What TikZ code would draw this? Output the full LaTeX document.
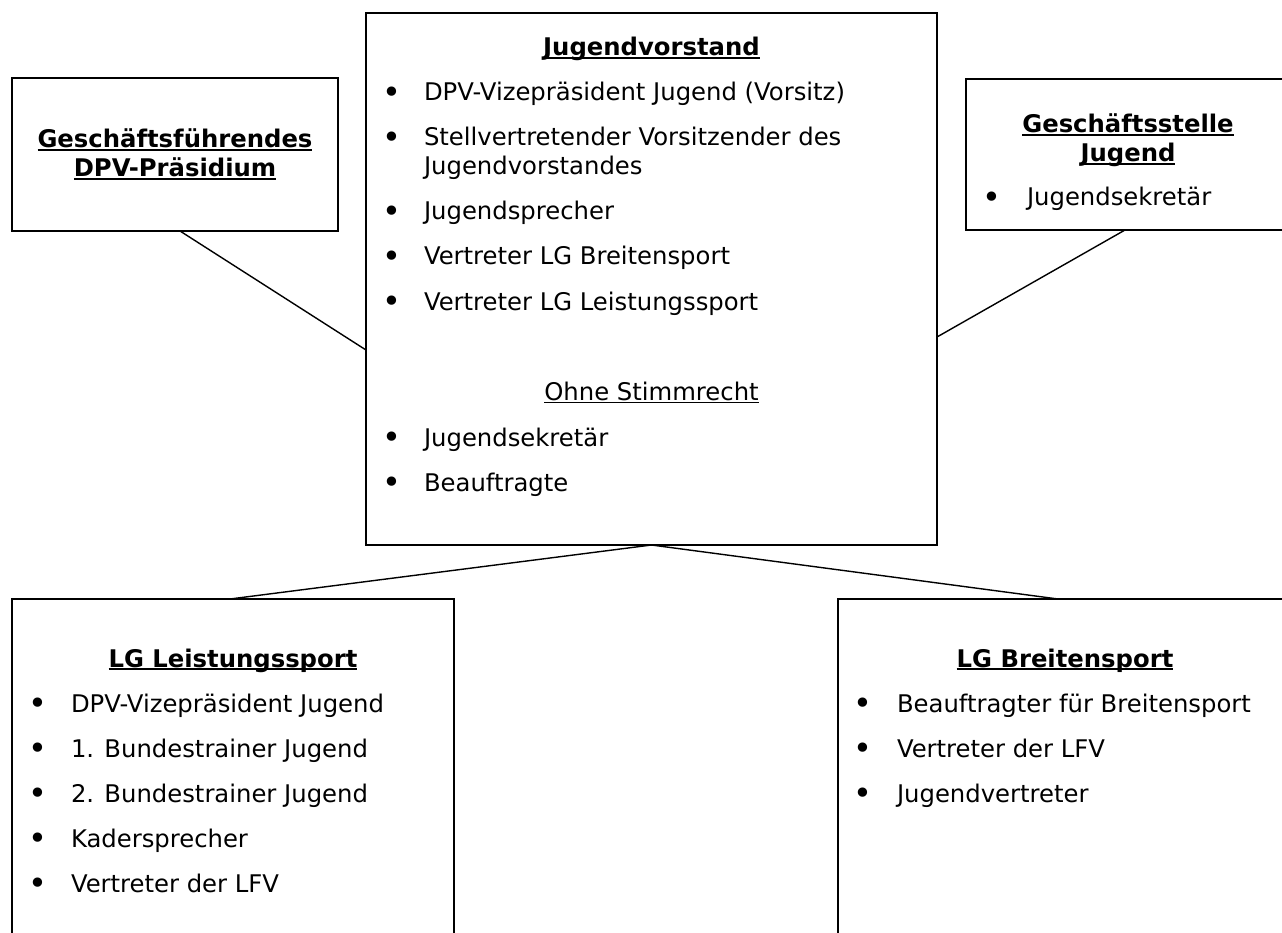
\documentclass[tikz,border=0pt]{standalone}
\usepackage{fontspec}
\setmainfont{DejaVu Sans}
\newcommand\hul[1]{\setbox0=\hbox{\bfseries #1}\rlap{\rule[-3pt]{\wd0}{2pt}}\box0}
\newcommand\tul[1]{\setbox0=\hbox{#1}\rlap{\rule[-3pt]{\wd0}{1.3pt}}\box0}
\newcommand\bigbul{\raisebox{-2.5pt}{\fontsize{32}{32}\selectfont •}}
\tikzset{
  box/.style={draw=black, line width=1.6pt, fill=none, inner sep=0pt, outer sep=0pt, anchor=north west, rectangle},
  conn/.style={draw=black, line width=1.4pt},
  txt/.style={inner sep=0pt, outer sep=0pt, anchor=base west, font=\fontsize{24.3}{29}\selectfont},
  head/.style={inner sep=0pt, outer sep=0pt, anchor=base, font=\fontsize{24.3}{29}\selectfont},
  bul/.style={inner sep=0pt, outer sep=0pt, anchor=base, font=\fontsize{24}{29}\selectfont},
}
\begin{document}
\begin{tikzpicture}[x=1pt,y=-1pt]
\useasboundingbox (0,0) rectangle (1282,933);
\clip (0,0) rectangle (1282,933);
\fill[white] (0,0) rectangle (1282,933);
% boxes
\node[box, minimum width=571pt, minimum height=532pt] (c) at (366,13) {};
\node[box, minimum width=326pt, minimum height=153pt] (lt) at (12,78) {};
\node[box, minimum width=340pt, minimum height=151pt] (rt) at (966,79) {};
\node[box, minimum width=442pt, minimum height=400pt] (lb) at (12,599) {};
\node[box, minimum width=470pt, minimum height=400pt] (rb) at (838,599) {};
% connectors
\draw[conn] (lt.south -| 180,0) -- (c.west |- 0,350);
\draw[conn] (rt.south -| 1125,0) -- (c.east |- 0,337);
\draw[conn] (lb.north -| 230,0) -- (c.south);
\draw[conn] (rb.north -| 1058,0) -- (c.south);
% central
\node[head] (ch) at (651.5,56) {\hul{Jugendvorstand}};
\node[bul] (cb1) at (391.5,101) {\bigbul};
\node[txt] (ct1) at (424,101) {DPV-Vizepräsident Jugend (Vorsitz)};
\node[bul] (cb2) at (391.5,146) {\bigbul};
\node[txt] (ct2) at (424,146) {Stellvertretender Vorsitzender des};
\node[txt] (ct2b) at (424,175) {Jugendvorstandes};
\node[bul] (cb3) at (391.5,220) {\bigbul};
\node[txt] (ct3) at (424,220) {Jugendsprecher};
\node[bul] (cb4) at (391.5,265) {\bigbul};
\node[txt] (ct4) at (424,265) {Vertreter LG Breitensport};
\node[bul] (cb5) at (391.5,310) {\bigbul};
\node[txt] (ct5) at (424,310) {Vertreter LG Leistungssport};
\node[head] (co) at (651.5,400) {\tul{Ohne Stimmrecht}};
\node[bul] (cb6) at (391.5,446) {\bigbul};
\node[txt] (ct6) at (424,446) {Jugendsekretär};
\node[bul] (cb7) at (391.5,491) {\bigbul};
\node[txt] (ct7) at (424,491) {Beauftragte};
% left top
\node[head] (lth1) at (175,148) {\hul{Geschäftsführendes}};
\node[head] (lth2) at (175,177) {\hul{DPV-Präsidium}};
% right top
\node[head] (rth1) at (1128,133) {\hul{Geschäftsstelle}};
\node[head] (rth2) at (1128,162) {\hul{Jugend}};
\node[bul] (rtb1) at (991.5,206) {\bigbul};
\node[txt] (rtt1) at (1027,206) {Jugendsekretär};
% bottom left
\node[head] (lbh) at (233,667) {\hul{LG Leistungssport}};
\node[bul] (lbb1) at (38,712) {\bigbul};
\node[txt] (lbt1) at (71,712) {DPV-Vizepräsident Jugend};
\node[bul] (lbb2) at (38,757) {\bigbul};
\node[txt] (lbt2) at (71,757) {1. Bundestrainer Jugend};
\node[bul] (lbb3) at (38,802) {\bigbul};
\node[txt] (lbt3) at (71,802) {2. Bundestrainer Jugend};
\node[bul] (lbb4) at (38,847) {\bigbul};
\node[txt] (lbt4) at (71,847) {Kadersprecher};
\node[bul] (lbb5) at (38,892) {\bigbul};
\node[txt] (lbt5) at (71,892) {Vertreter der LFV};
% bottom right
\node[head] (rbh) at (1065,667) {\hul{LG Breitensport}};
\node[bul] (rbb1) at (863,712) {\bigbul};
\node[txt] (rbt1) at (897,712) {Beauftragter für Breitensport};
\node[bul] (rbb2) at (863,757) {\bigbul};
\node[txt] (rbt2) at (897,757) {Vertreter der LFV};
\node[bul] (rbb3) at (863,802) {\bigbul};
\node[txt] (rbt3) at (897,802) {Jugendvertreter};
\end{tikzpicture}
\end{document}
